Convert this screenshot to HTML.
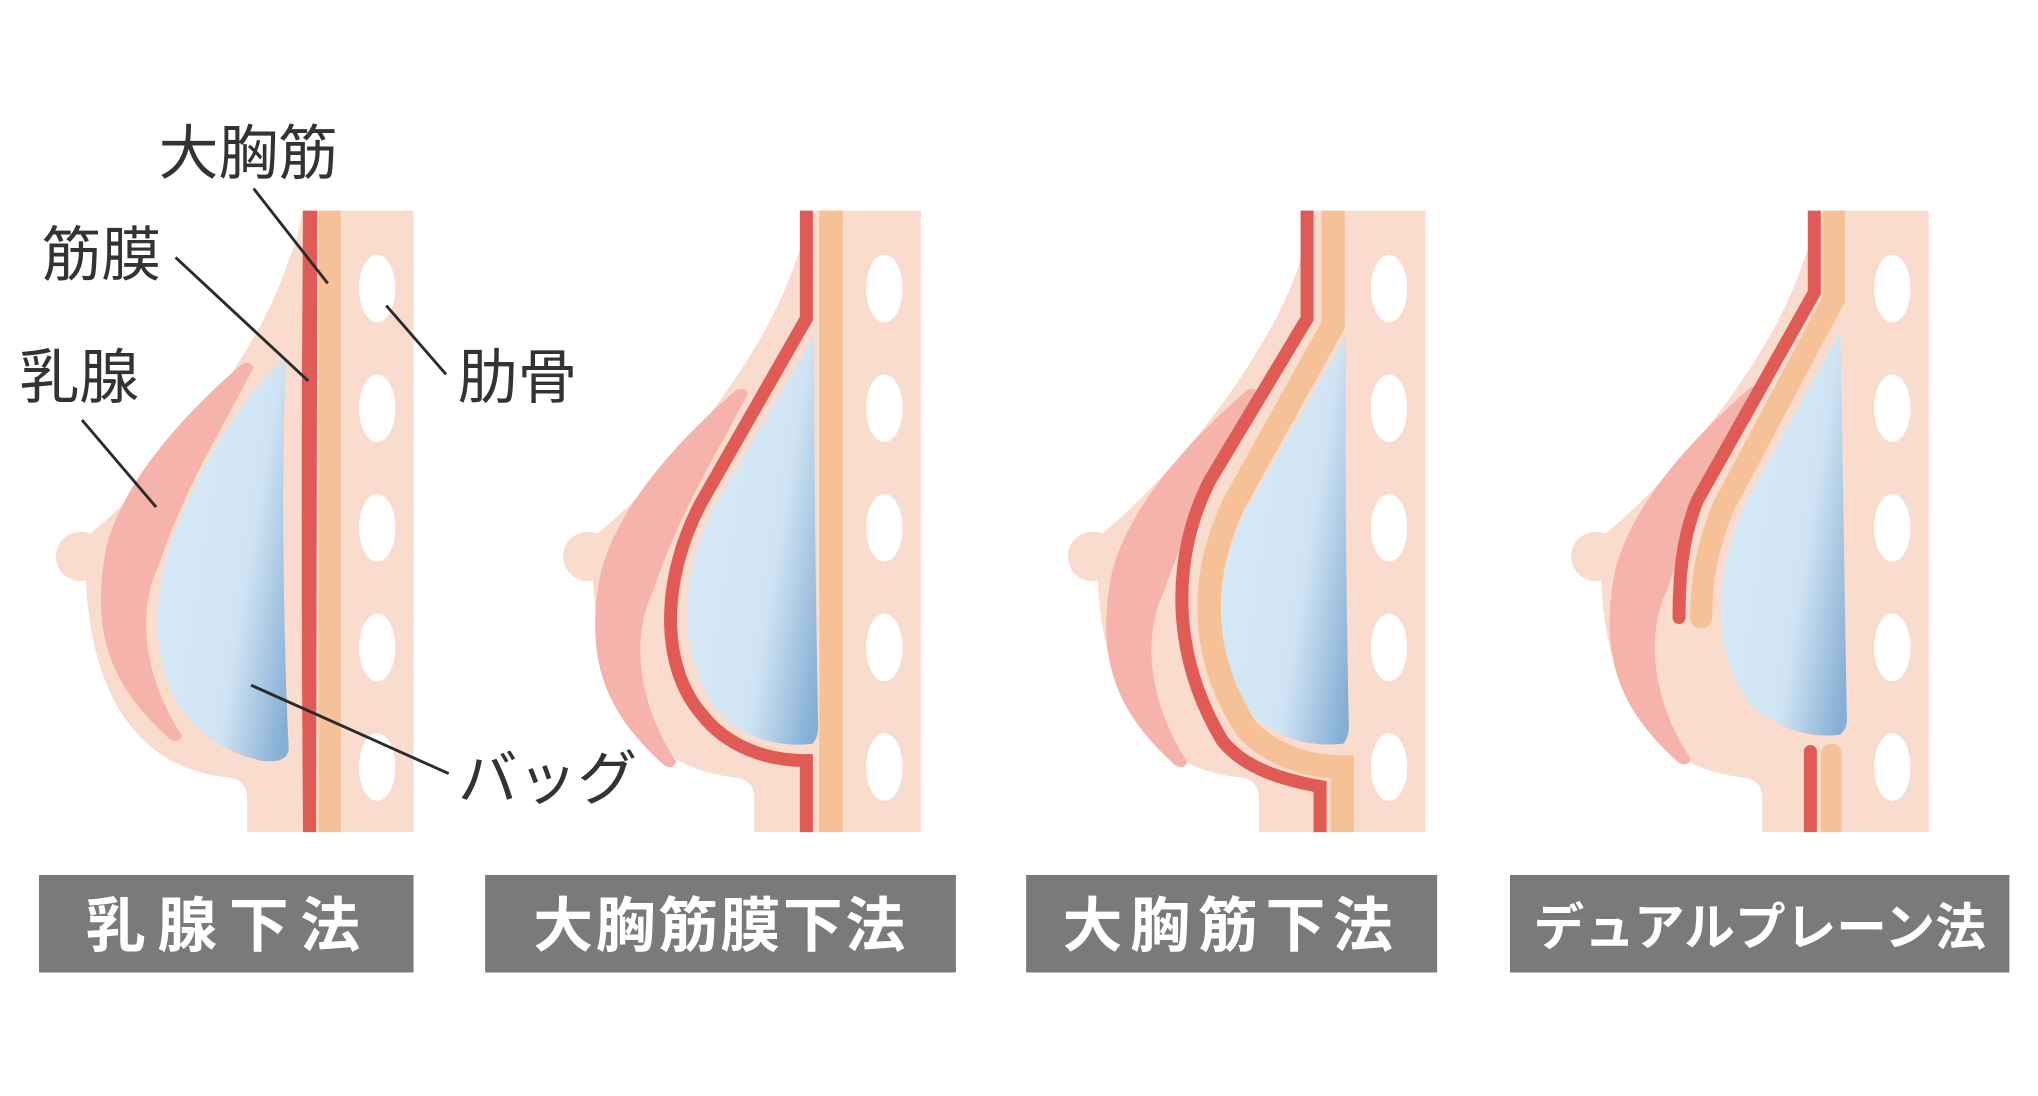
<!DOCTYPE html>
<html><head><meta charset="utf-8"><style>
html,body{margin:0;padding:0;background:#fff;}
svg{display:block}
text{font-family:"Liberation Sans","Noto Sans CJK JP",sans-serif;}
</style></head><body>
<svg width="2038" height="1096" viewBox="0 0 1567 843" preserveAspectRatio="none" xmlns="http://www.w3.org/2000/svg">
<defs>
<linearGradient id="g" x1="0.3" y1="0.5" x2="1" y2="0.85">
<stop offset="0" stop-color="#d4e7f5"/><stop offset="0.45" stop-color="#d0e4f3"/><stop offset="1" stop-color="#86afd5"/>
</linearGradient>
<g id="skin">
<path d="M232,162 L318,162 L318,640 L190,640 L190,614 Q190,600 176,598 C110,592 70,540 66,445 L70,410 C130,360 200,270 222,200 Q232,175 232,162 Z" fill="#f9dccd"/>
<circle cx="62" cy="428" r="19" fill="#f9dccd"/>
<g fill="#fff">
<ellipse cx="290" cy="222" rx="14" ry="26"/><ellipse cx="290" cy="314" rx="14" ry="26"/>
<ellipse cx="290" cy="406" rx="14" ry="26"/><ellipse cx="290" cy="498" rx="14" ry="26"/>
<ellipse cx="290" cy="590" rx="14" ry="26"/></g>
</g>
<path id="gland" d="M195,283 Q193,277 186,280 C140,320 95,370 82,420 C68,490 88,530 130,568 Q137,573 140,566 C110,520 105,470 122,435 C140,380 170,330 195,283 Z" fill="#f5b3ab"/>
</defs>

<!-- Panel 1 -->
<g>
<use href="#skin"/><use href="#gland"/>
<path d="M220,275 C180,310 140,380 125,440 C110,520 140,570 200,585 Q222,588 222,575 C218,500 216,350 220,275 Z" fill="url(#g)"/>
<rect x="245" y="162" width="17" height="478" fill="#f7c197"/>
<path d="M233,162 L244,162 L243,640 L233,640 Q231,400 233,162 Z" fill="#e05b55"/>
</g>

<!-- Panel 2 -->
<g transform="translate(390,0)">
<use href="#skin"/><use href="#gland" transform="translate(-10,20)"/>
<rect x="240" y="162" width="18" height="478" fill="#f7c197"/>
<path d="M236,258 L160,388 C132,442 130,500 160,545 C180,570 215,575 235,572 Q240,566 239,555 C237,450 236,350 236,258 Z" fill="url(#g)"/>
<path d="M230,162 L230,245 L150,385 C120,440 115,510 150,550 C170,575 200,585 230,585 L230,640" fill="none" stroke="#e05b55" stroke-width="10"/>
</g>

<!-- Panel 3 -->
<g transform="translate(778,0)">
<use href="#skin"/><use href="#gland" transform="translate(-5,20)"/>
<path d="M257,258 L180,392 C155,445 152,500 180,545 C200,568 230,575 255,572 Q260,566 259,555 C257,450 256,350 257,258 Z" fill="url(#g)"/>
<path d="M247,162 L247,250 L172,385 C145,440 142,500 180,560 C200,582 230,590 254,590 L254,640" fill="none" stroke="#f7c197" stroke-width="18"/>
<path d="M227,162 L227,245 L152,370 C124,425 120,500 162,570 C180,592 210,600 237,605 L237,640" fill="none" stroke="#e05b55" stroke-width="10"/>
</g>

<!-- Panel 4 -->
<g transform="translate(1165,0)">
<use href="#skin"/><use href="#gland" transform="translate(-5,18)"/>
<path d="M250,255 L178,385 C152,440 150,500 180,540 C200,562 230,568 250,565 Q256,560 255,550 C253,450 252,350 250,255 Z" fill="url(#g)"/>
<path d="M245,162 L245,230 L160,390 C148,420 143,445 143,475" fill="none" stroke="#f7c197" stroke-width="17"/>
<circle cx="143" cy="475" r="8.5" fill="#f7c197"/>
<path d="M230,162 L230,225 L140,385 C128,415 126,445 126,475" fill="none" stroke="#e05b55" stroke-width="10"/>
<circle cx="126" cy="475" r="5" fill="#e05b55"/>
<path d="M227,578 L227,640" stroke="#e05b55" stroke-width="10"/>
<circle cx="227" cy="578" r="5" fill="#e05b55"/>
<path d="M243,580 L243,640" stroke="#f7c197" stroke-width="16"/>
<circle cx="243" cy="580" r="8" fill="#f7c197"/>
</g>

<!-- annotations -->
<g stroke="#2b2b2b" stroke-width="2.2">
<line x1="195" y1="145" x2="252" y2="218"/>
<line x1="135" y1="198" x2="237" y2="293"/>
<line x1="63" y1="323" x2="120" y2="390"/>
<line x1="297" y1="235" x2="343" y2="288"/>
<line x1="193" y1="527" x2="345" y2="595"/>
</g>
<g fill="#333" font-size="46">
<text x="122" y="134">大胸筋</text>
<text x="32" y="212">筋膜</text>
<text x="15" y="306">乳腺</text>
<text x="352" y="306">肋骨</text>
<text x="352" y="615">バッグ</text>
</g>

<!-- labels -->
<g fill="#7a7a7a">
<rect x="30" y="673" width="288" height="75"/>
<rect x="373" y="673" width="362" height="75"/>
<rect x="789" y="673" width="316" height="75"/>
<rect x="1161" y="673" width="384" height="75"/>
</g>
<g fill="#fff" font-size="46" font-weight="bold" text-anchor="middle">
<text x="176" y="728" letter-spacing="9">乳腺下法</text>
<text x="554" y="728" letter-spacing="2">大胸筋膜下法</text>
<text x="947" y="728" letter-spacing="6">大胸筋下法</text>
<text x="1353" y="727" font-size="39">デュアルプレーン法</text>
</g>
</svg>
</body></html>
